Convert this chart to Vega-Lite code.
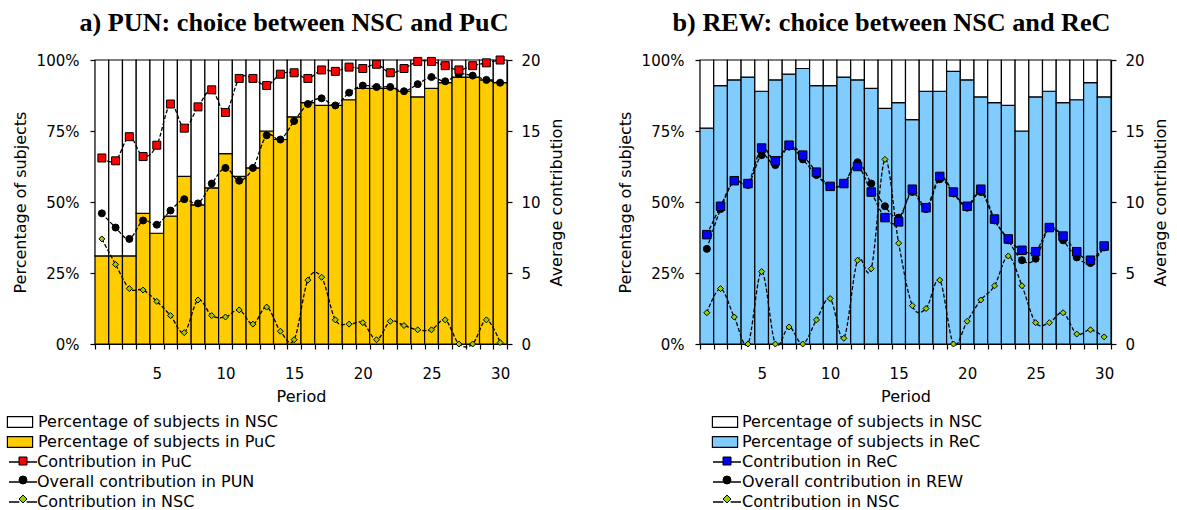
{
  "$schema": "https://vega.github.io/schema/vega-lite/v6.json",
  "background": "white",
  "padding": {"left": 10, "top": 9, "right": 5, "bottom": 0},
  "config": {
    "font": "DejaVu Sans",
    "view": {"stroke": null},
    "axis": {
      "labelFont": "DejaVu Sans", "labelFontSize": 15, "labelColor": "black",
      "titleFont": "DejaVu Sans", "titleFontSize": 16, "titleFontWeight": "normal", "titleColor": "black",
      "domainColor": "black", "domainWidth": 1.2, "tickColor": "black", "tickWidth": 1.2, "grid": false
    },
    "legend": {"labelFont": "DejaVu Sans", "labelFontSize": 16, "labelColor": "black", "labelLimit": 0},
    "title": {"font": "Liberation Serif", "fontSize": 26.2, "fontWeight": "bold", "color": "black"}
  },
  "datasets": {
    "pun_bars": [
      {"period": 1, "group": "Percentage of subjects in PuC", "share": 0.31}, {"period": 1, "group": "Percentage of subjects in NSC", "share": 0.69},
      {"period": 2, "group": "Percentage of subjects in PuC", "share": 0.31}, {"period": 2, "group": "Percentage of subjects in NSC", "share": 0.69},
      {"period": 3, "group": "Percentage of subjects in PuC", "share": 0.31}, {"period": 3, "group": "Percentage of subjects in NSC", "share": 0.69},
      {"period": 4, "group": "Percentage of subjects in PuC", "share": 0.46}, {"period": 4, "group": "Percentage of subjects in NSC", "share": 0.54},
      {"period": 5, "group": "Percentage of subjects in PuC", "share": 0.39}, {"period": 5, "group": "Percentage of subjects in NSC", "share": 0.61},
      {"period": 6, "group": "Percentage of subjects in PuC", "share": 0.45}, {"period": 6, "group": "Percentage of subjects in NSC", "share": 0.55},
      {"period": 7, "group": "Percentage of subjects in PuC", "share": 0.59}, {"period": 7, "group": "Percentage of subjects in NSC", "share": 0.41},
      {"period": 8, "group": "Percentage of subjects in PuC", "share": 0.49}, {"period": 8, "group": "Percentage of subjects in NSC", "share": 0.51},
      {"period": 9, "group": "Percentage of subjects in PuC", "share": 0.55}, {"period": 9, "group": "Percentage of subjects in NSC", "share": 0.45},
      {"period": 10, "group": "Percentage of subjects in PuC", "share": 0.67}, {"period": 10, "group": "Percentage of subjects in NSC", "share": 0.33},
      {"period": 11, "group": "Percentage of subjects in PuC", "share": 0.59}, {"period": 11, "group": "Percentage of subjects in NSC", "share": 0.41},
      {"period": 12, "group": "Percentage of subjects in PuC", "share": 0.62}, {"period": 12, "group": "Percentage of subjects in NSC", "share": 0.38},
      {"period": 13, "group": "Percentage of subjects in PuC", "share": 0.75}, {"period": 13, "group": "Percentage of subjects in NSC", "share": 0.25},
      {"period": 14, "group": "Percentage of subjects in PuC", "share": 0.72}, {"period": 14, "group": "Percentage of subjects in NSC", "share": 0.28},
      {"period": 15, "group": "Percentage of subjects in PuC", "share": 0.80}, {"period": 15, "group": "Percentage of subjects in NSC", "share": 0.20},
      {"period": 16, "group": "Percentage of subjects in PuC", "share": 0.85}, {"period": 16, "group": "Percentage of subjects in NSC", "share": 0.15},
      {"period": 17, "group": "Percentage of subjects in PuC", "share": 0.84}, {"period": 17, "group": "Percentage of subjects in NSC", "share": 0.16},
      {"period": 18, "group": "Percentage of subjects in PuC", "share": 0.84}, {"period": 18, "group": "Percentage of subjects in NSC", "share": 0.16},
      {"period": 19, "group": "Percentage of subjects in PuC", "share": 0.86}, {"period": 19, "group": "Percentage of subjects in NSC", "share": 0.14},
      {"period": 20, "group": "Percentage of subjects in PuC", "share": 0.90}, {"period": 20, "group": "Percentage of subjects in NSC", "share": 0.10},
      {"period": 21, "group": "Percentage of subjects in PuC", "share": 0.90}, {"period": 21, "group": "Percentage of subjects in NSC", "share": 0.10},
      {"period": 22, "group": "Percentage of subjects in PuC", "share": 0.90}, {"period": 22, "group": "Percentage of subjects in NSC", "share": 0.10},
      {"period": 23, "group": "Percentage of subjects in PuC", "share": 0.89}, {"period": 23, "group": "Percentage of subjects in NSC", "share": 0.11},
      {"period": 24, "group": "Percentage of subjects in PuC", "share": 0.87}, {"period": 24, "group": "Percentage of subjects in NSC", "share": 0.13},
      {"period": 25, "group": "Percentage of subjects in PuC", "share": 0.90}, {"period": 25, "group": "Percentage of subjects in NSC", "share": 0.10},
      {"period": 26, "group": "Percentage of subjects in PuC", "share": 0.92}, {"period": 26, "group": "Percentage of subjects in NSC", "share": 0.08},
      {"period": 27, "group": "Percentage of subjects in PuC", "share": 0.94}, {"period": 27, "group": "Percentage of subjects in NSC", "share": 0.06},
      {"period": 28, "group": "Percentage of subjects in PuC", "share": 0.94}, {"period": 28, "group": "Percentage of subjects in NSC", "share": 0.06},
      {"period": 29, "group": "Percentage of subjects in PuC", "share": 0.93}, {"period": 29, "group": "Percentage of subjects in NSC", "share": 0.07},
      {"period": 30, "group": "Percentage of subjects in PuC", "share": 0.92}, {"period": 30, "group": "Percentage of subjects in NSC", "share": 0.08}
    ],
    "pun_lines": [
      {"period": 1, "series": "Overall contribution in PUN", "value": 9.2},
      {"period": 2, "series": "Overall contribution in PUN", "value": 8.2},
      {"period": 3, "series": "Overall contribution in PUN", "value": 7.4},
      {"period": 4, "series": "Overall contribution in PUN", "value": 8.7},
      {"period": 5, "series": "Overall contribution in PUN", "value": 8.4},
      {"period": 6, "series": "Overall contribution in PUN", "value": 9.4},
      {"period": 7, "series": "Overall contribution in PUN", "value": 10.2},
      {"period": 8, "series": "Overall contribution in PUN", "value": 9.9},
      {"period": 9, "series": "Overall contribution in PUN", "value": 11.3},
      {"period": 10, "series": "Overall contribution in PUN", "value": 12.4},
      {"period": 11, "series": "Overall contribution in PUN", "value": 11.5},
      {"period": 12, "series": "Overall contribution in PUN", "value": 12.4},
      {"period": 13, "series": "Overall contribution in PUN", "value": 14.7},
      {"period": 14, "series": "Overall contribution in PUN", "value": 14.4},
      {"period": 15, "series": "Overall contribution in PUN", "value": 15.7},
      {"period": 16, "series": "Overall contribution in PUN", "value": 16.9},
      {"period": 17, "series": "Overall contribution in PUN", "value": 17.3},
      {"period": 18, "series": "Overall contribution in PUN", "value": 16.8},
      {"period": 19, "series": "Overall contribution in PUN", "value": 17.7},
      {"period": 20, "series": "Overall contribution in PUN", "value": 18.2},
      {"period": 21, "series": "Overall contribution in PUN", "value": 18.1},
      {"period": 22, "series": "Overall contribution in PUN", "value": 18.1},
      {"period": 23, "series": "Overall contribution in PUN", "value": 17.8},
      {"period": 24, "series": "Overall contribution in PUN", "value": 18.3},
      {"period": 25, "series": "Overall contribution in PUN", "value": 18.8},
      {"period": 26, "series": "Overall contribution in PUN", "value": 18.5},
      {"period": 27, "series": "Overall contribution in PUN", "value": 19.0},
      {"period": 28, "series": "Overall contribution in PUN", "value": 18.9},
      {"period": 29, "series": "Overall contribution in PUN", "value": 18.6},
      {"period": 30, "series": "Overall contribution in PUN", "value": 18.4},
      {"period": 1, "series": "Contribution in PuC", "value": 13.1},
      {"period": 2, "series": "Contribution in PuC", "value": 12.9},
      {"period": 3, "series": "Contribution in PuC", "value": 14.6},
      {"period": 4, "series": "Contribution in PuC", "value": 13.2},
      {"period": 5, "series": "Contribution in PuC", "value": 14.0},
      {"period": 6, "series": "Contribution in PuC", "value": 16.9},
      {"period": 7, "series": "Contribution in PuC", "value": 15.2},
      {"period": 8, "series": "Contribution in PuC", "value": 16.7},
      {"period": 9, "series": "Contribution in PuC", "value": 17.9},
      {"period": 10, "series": "Contribution in PuC", "value": 16.3},
      {"period": 11, "series": "Contribution in PuC", "value": 18.7},
      {"period": 12, "series": "Contribution in PuC", "value": 18.7},
      {"period": 13, "series": "Contribution in PuC", "value": 18.2},
      {"period": 14, "series": "Contribution in PuC", "value": 19.0},
      {"period": 15, "series": "Contribution in PuC", "value": 19.1},
      {"period": 16, "series": "Contribution in PuC", "value": 18.7},
      {"period": 17, "series": "Contribution in PuC", "value": 19.3},
      {"period": 18, "series": "Contribution in PuC", "value": 19.2},
      {"period": 19, "series": "Contribution in PuC", "value": 19.5},
      {"period": 20, "series": "Contribution in PuC", "value": 19.4},
      {"period": 21, "series": "Contribution in PuC", "value": 19.7},
      {"period": 22, "series": "Contribution in PuC", "value": 19.1},
      {"period": 23, "series": "Contribution in PuC", "value": 19.4},
      {"period": 24, "series": "Contribution in PuC", "value": 19.9},
      {"period": 25, "series": "Contribution in PuC", "value": 19.9},
      {"period": 26, "series": "Contribution in PuC", "value": 19.6},
      {"period": 27, "series": "Contribution in PuC", "value": 19.3},
      {"period": 28, "series": "Contribution in PuC", "value": 19.6},
      {"period": 29, "series": "Contribution in PuC", "value": 19.8},
      {"period": 30, "series": "Contribution in PuC", "value": 20.0},
      {"period": 1, "series": "Contribution in NSC", "value": 7.4},
      {"period": 2, "series": "Contribution in NSC", "value": 5.6},
      {"period": 3, "series": "Contribution in NSC", "value": 3.9},
      {"period": 4, "series": "Contribution in NSC", "value": 3.8},
      {"period": 5, "series": "Contribution in NSC", "value": 3.0},
      {"period": 6, "series": "Contribution in NSC", "value": 2.0},
      {"period": 7, "series": "Contribution in NSC", "value": 0.8},
      {"period": 8, "series": "Contribution in NSC", "value": 3.1},
      {"period": 9, "series": "Contribution in NSC", "value": 2.0},
      {"period": 10, "series": "Contribution in NSC", "value": 1.9},
      {"period": 11, "series": "Contribution in NSC", "value": 2.4},
      {"period": 12, "series": "Contribution in NSC", "value": 1.4},
      {"period": 13, "series": "Contribution in NSC", "value": 2.6},
      {"period": 14, "series": "Contribution in NSC", "value": 0.9},
      {"period": 15, "series": "Contribution in NSC", "value": 0.3},
      {"period": 16, "series": "Contribution in NSC", "value": 4.5},
      {"period": 17, "series": "Contribution in NSC", "value": 4.7},
      {"period": 18, "series": "Contribution in NSC", "value": 1.7},
      {"period": 19, "series": "Contribution in NSC", "value": 1.4},
      {"period": 20, "series": "Contribution in NSC", "value": 1.5},
      {"period": 21, "series": "Contribution in NSC", "value": 0.3},
      {"period": 22, "series": "Contribution in NSC", "value": 1.6},
      {"period": 23, "series": "Contribution in NSC", "value": 1.3},
      {"period": 24, "series": "Contribution in NSC", "value": 1.0},
      {"period": 25, "series": "Contribution in NSC", "value": 1.0},
      {"period": 26, "series": "Contribution in NSC", "value": 1.7},
      {"period": 27, "series": "Contribution in NSC", "value": 0.0},
      {"period": 28, "series": "Contribution in NSC", "value": 0.0},
      {"period": 29, "series": "Contribution in NSC", "value": 1.7},
      {"period": 30, "series": "Contribution in NSC", "value": 0.1}
    ],
    "rew_bars": [
      {"period": 1, "group": "Percentage of subjects in ReC", "share": 0.76}, {"period": 1, "group": "Percentage of subjects in NSC", "share": 0.24},
      {"period": 2, "group": "Percentage of subjects in ReC", "share": 0.91}, {"period": 2, "group": "Percentage of subjects in NSC", "share": 0.09},
      {"period": 3, "group": "Percentage of subjects in ReC", "share": 0.93}, {"period": 3, "group": "Percentage of subjects in NSC", "share": 0.07},
      {"period": 4, "group": "Percentage of subjects in ReC", "share": 0.94}, {"period": 4, "group": "Percentage of subjects in NSC", "share": 0.06},
      {"period": 5, "group": "Percentage of subjects in ReC", "share": 0.89}, {"period": 5, "group": "Percentage of subjects in NSC", "share": 0.11},
      {"period": 6, "group": "Percentage of subjects in ReC", "share": 0.93}, {"period": 6, "group": "Percentage of subjects in NSC", "share": 0.07},
      {"period": 7, "group": "Percentage of subjects in ReC", "share": 0.95}, {"period": 7, "group": "Percentage of subjects in NSC", "share": 0.05},
      {"period": 8, "group": "Percentage of subjects in ReC", "share": 0.97}, {"period": 8, "group": "Percentage of subjects in NSC", "share": 0.03},
      {"period": 9, "group": "Percentage of subjects in ReC", "share": 0.91}, {"period": 9, "group": "Percentage of subjects in NSC", "share": 0.09},
      {"period": 10, "group": "Percentage of subjects in ReC", "share": 0.91}, {"period": 10, "group": "Percentage of subjects in NSC", "share": 0.09},
      {"period": 11, "group": "Percentage of subjects in ReC", "share": 0.94}, {"period": 11, "group": "Percentage of subjects in NSC", "share": 0.06},
      {"period": 12, "group": "Percentage of subjects in ReC", "share": 0.93}, {"period": 12, "group": "Percentage of subjects in NSC", "share": 0.07},
      {"period": 13, "group": "Percentage of subjects in ReC", "share": 0.90}, {"period": 13, "group": "Percentage of subjects in NSC", "share": 0.10},
      {"period": 14, "group": "Percentage of subjects in ReC", "share": 0.83}, {"period": 14, "group": "Percentage of subjects in NSC", "share": 0.17},
      {"period": 15, "group": "Percentage of subjects in ReC", "share": 0.85}, {"period": 15, "group": "Percentage of subjects in NSC", "share": 0.15},
      {"period": 16, "group": "Percentage of subjects in ReC", "share": 0.79}, {"period": 16, "group": "Percentage of subjects in NSC", "share": 0.21},
      {"period": 17, "group": "Percentage of subjects in ReC", "share": 0.89}, {"period": 17, "group": "Percentage of subjects in NSC", "share": 0.11},
      {"period": 18, "group": "Percentage of subjects in ReC", "share": 0.89}, {"period": 18, "group": "Percentage of subjects in NSC", "share": 0.11},
      {"period": 19, "group": "Percentage of subjects in ReC", "share": 0.96}, {"period": 19, "group": "Percentage of subjects in NSC", "share": 0.04},
      {"period": 20, "group": "Percentage of subjects in ReC", "share": 0.93}, {"period": 20, "group": "Percentage of subjects in NSC", "share": 0.07},
      {"period": 21, "group": "Percentage of subjects in ReC", "share": 0.87}, {"period": 21, "group": "Percentage of subjects in NSC", "share": 0.13},
      {"period": 22, "group": "Percentage of subjects in ReC", "share": 0.85}, {"period": 22, "group": "Percentage of subjects in NSC", "share": 0.15},
      {"period": 23, "group": "Percentage of subjects in ReC", "share": 0.84}, {"period": 23, "group": "Percentage of subjects in NSC", "share": 0.16},
      {"period": 24, "group": "Percentage of subjects in ReC", "share": 0.75}, {"period": 24, "group": "Percentage of subjects in NSC", "share": 0.25},
      {"period": 25, "group": "Percentage of subjects in ReC", "share": 0.87}, {"period": 25, "group": "Percentage of subjects in NSC", "share": 0.13},
      {"period": 26, "group": "Percentage of subjects in ReC", "share": 0.89}, {"period": 26, "group": "Percentage of subjects in NSC", "share": 0.11},
      {"period": 27, "group": "Percentage of subjects in ReC", "share": 0.85}, {"period": 27, "group": "Percentage of subjects in NSC", "share": 0.15},
      {"period": 28, "group": "Percentage of subjects in ReC", "share": 0.86}, {"period": 28, "group": "Percentage of subjects in NSC", "share": 0.14},
      {"period": 29, "group": "Percentage of subjects in ReC", "share": 0.92}, {"period": 29, "group": "Percentage of subjects in NSC", "share": 0.08},
      {"period": 30, "group": "Percentage of subjects in ReC", "share": 0.87}, {"period": 30, "group": "Percentage of subjects in NSC", "share": 0.13}
    ],
    "rew_lines": [
      {"period": 1, "series": "Overall contribution in REW", "value": 6.7},
      {"period": 2, "series": "Overall contribution in REW", "value": 9.5},
      {"period": 3, "series": "Overall contribution in REW", "value": 11.5},
      {"period": 4, "series": "Overall contribution in REW", "value": 11.2},
      {"period": 5, "series": "Overall contribution in REW", "value": 13.3},
      {"period": 6, "series": "Overall contribution in REW", "value": 12.6},
      {"period": 7, "series": "Overall contribution in REW", "value": 13.9},
      {"period": 8, "series": "Overall contribution in REW", "value": 13.0},
      {"period": 9, "series": "Overall contribution in REW", "value": 11.9},
      {"period": 10, "series": "Overall contribution in REW", "value": 11.1},
      {"period": 11, "series": "Overall contribution in REW", "value": 11.3},
      {"period": 12, "series": "Overall contribution in REW", "value": 12.8},
      {"period": 13, "series": "Overall contribution in REW", "value": 11.3},
      {"period": 14, "series": "Overall contribution in REW", "value": 9.7},
      {"period": 15, "series": "Overall contribution in REW", "value": 8.9},
      {"period": 16, "series": "Overall contribution in REW", "value": 10.7},
      {"period": 17, "series": "Overall contribution in REW", "value": 9.5},
      {"period": 18, "series": "Overall contribution in REW", "value": 11.6},
      {"period": 19, "series": "Overall contribution in REW", "value": 10.6},
      {"period": 20, "series": "Overall contribution in REW", "value": 9.6},
      {"period": 21, "series": "Overall contribution in REW", "value": 10.7},
      {"period": 22, "series": "Overall contribution in REW", "value": 8.7},
      {"period": 23, "series": "Overall contribution in REW", "value": 7.3},
      {"period": 24, "series": "Overall contribution in REW", "value": 5.9},
      {"period": 25, "series": "Overall contribution in REW", "value": 6.0},
      {"period": 26, "series": "Overall contribution in REW", "value": 8.2},
      {"period": 27, "series": "Overall contribution in REW", "value": 7.3},
      {"period": 28, "series": "Overall contribution in REW", "value": 6.1},
      {"period": 29, "series": "Overall contribution in REW", "value": 5.7},
      {"period": 30, "series": "Overall contribution in REW", "value": 6.8},
      {"period": 1, "series": "Contribution in ReC", "value": 7.7},
      {"period": 2, "series": "Contribution in ReC", "value": 9.7},
      {"period": 3, "series": "Contribution in ReC", "value": 11.5},
      {"period": 4, "series": "Contribution in ReC", "value": 11.3},
      {"period": 5, "series": "Contribution in ReC", "value": 13.8},
      {"period": 6, "series": "Contribution in ReC", "value": 12.9},
      {"period": 7, "series": "Contribution in ReC", "value": 14.0},
      {"period": 8, "series": "Contribution in ReC", "value": 13.3},
      {"period": 9, "series": "Contribution in ReC", "value": 12.1},
      {"period": 10, "series": "Contribution in ReC", "value": 11.1},
      {"period": 11, "series": "Contribution in ReC", "value": 11.3},
      {"period": 12, "series": "Contribution in ReC", "value": 12.5},
      {"period": 13, "series": "Contribution in ReC", "value": 10.7},
      {"period": 14, "series": "Contribution in ReC", "value": 8.9},
      {"period": 15, "series": "Contribution in ReC", "value": 8.6},
      {"period": 16, "series": "Contribution in ReC", "value": 10.9},
      {"period": 17, "series": "Contribution in ReC", "value": 9.6},
      {"period": 18, "series": "Contribution in ReC", "value": 11.8},
      {"period": 19, "series": "Contribution in ReC", "value": 10.7},
      {"period": 20, "series": "Contribution in ReC", "value": 9.7},
      {"period": 21, "series": "Contribution in ReC", "value": 10.9},
      {"period": 22, "series": "Contribution in ReC", "value": 8.8},
      {"period": 23, "series": "Contribution in ReC", "value": 7.4},
      {"period": 24, "series": "Contribution in ReC", "value": 6.6},
      {"period": 25, "series": "Contribution in ReC", "value": 6.5},
      {"period": 26, "series": "Contribution in ReC", "value": 8.2},
      {"period": 27, "series": "Contribution in ReC", "value": 7.6},
      {"period": 28, "series": "Contribution in ReC", "value": 6.5},
      {"period": 29, "series": "Contribution in ReC", "value": 5.9},
      {"period": 30, "series": "Contribution in ReC", "value": 6.9},
      {"period": 1, "series": "Contribution in NSC", "value": 2.2},
      {"period": 2, "series": "Contribution in NSC", "value": 3.9},
      {"period": 3, "series": "Contribution in NSC", "value": 1.9},
      {"period": 4, "series": "Contribution in NSC", "value": 0.0},
      {"period": 5, "series": "Contribution in NSC", "value": 5.1},
      {"period": 6, "series": "Contribution in NSC", "value": 0.0},
      {"period": 7, "series": "Contribution in NSC", "value": 1.2},
      {"period": 8, "series": "Contribution in NSC", "value": 0.0},
      {"period": 9, "series": "Contribution in NSC", "value": 1.7},
      {"period": 10, "series": "Contribution in NSC", "value": 3.2},
      {"period": 11, "series": "Contribution in NSC", "value": 0.4},
      {"period": 12, "series": "Contribution in NSC", "value": 5.9},
      {"period": 13, "series": "Contribution in NSC", "value": 5.3},
      {"period": 14, "series": "Contribution in NSC", "value": 13.0},
      {"period": 15, "series": "Contribution in NSC", "value": 7.1},
      {"period": 16, "series": "Contribution in NSC", "value": 2.7},
      {"period": 17, "series": "Contribution in NSC", "value": 2.5},
      {"period": 18, "series": "Contribution in NSC", "value": 4.5},
      {"period": 19, "series": "Contribution in NSC", "value": 0.0},
      {"period": 20, "series": "Contribution in NSC", "value": 1.6},
      {"period": 21, "series": "Contribution in NSC", "value": 3.1},
      {"period": 22, "series": "Contribution in NSC", "value": 4.1},
      {"period": 23, "series": "Contribution in NSC", "value": 6.2},
      {"period": 24, "series": "Contribution in NSC", "value": 4.1},
      {"period": 25, "series": "Contribution in NSC", "value": 1.5},
      {"period": 26, "series": "Contribution in NSC", "value": 1.5},
      {"period": 27, "series": "Contribution in NSC", "value": 2.2},
      {"period": 28, "series": "Contribution in NSC", "value": 0.7},
      {"period": 29, "series": "Contribution in NSC", "value": 1.0},
      {"period": 30, "series": "Contribution in NSC", "value": 0.5}
    ]
  },
  "spacing": 52,
  "resolve": {
    "scale": {"color": "independent", "fill": "independent", "shape": "independent", "stroke": "independent"},
    "legend": {"color": "independent", "fill": "independent", "shape": "independent", "stroke": "independent"}
  },
  "hconcat": [
    {
      "width": 412,
      "height": 284,
      "title": {"text": "a) PUN: choice between NSC and PuC", "anchor": "middle", "frame": "group", "baseline": "alphabetic", "offset": -4, "dx": -7},
      "layer": [
        {
          "data": {"name": "pun_bars"},
          "mark": {"type": "bar", "stroke": "black", "strokeWidth": 1.2},
          "encoding": {
            "x": {
              "field": "period", "type": "ordinal",
              "scale": {"paddingInner": 0, "paddingOuter": 0},
              "axis": {
                "title": "Period", "labelAngle": 0, "tickBand": "extent", "tickSize": 5,
                "labelPadding": 17, "titlePadding": 7,
                "labelExpr": "datum.value % 5 === 0 ? datum.label : ''",
                "encode": {"ticks": {"y": {"value": -4}, "y2": {"value": 5}}}
              }
            },
            "y": {
              "field": "share", "type": "quantitative", "stack": "zero",
              "scale": {"domain": [0, 1]},
              "axis": {"title": "Percentage of subjects", "values": [0, 0.25, 0.5, 0.75, 1], "format": ".0%", "tickSize": 5, "labelPadding": 11, "titlePadding": 8}
            },
            "color": {
              "field": "group", "type": "nominal",
              "scale": {"domain": ["Percentage of subjects in NSC", "Percentage of subjects in PuC"], "range": ["#FFFFFF", "#FFCC00"]},
              "legend": {
                "title": null, "orient": "none", "legendX": -85, "legendY": 352, "padding": 0,
                "symbolType": "M-1.4,-0.6H1.4V0.6H-1.4Z", "symbolSize": 324,
                "symbolStrokeColor": "black", "symbolStrokeWidth": 1.2, "symbolOpacity": 1,
                "labelOffset": 8, "rowPadding": 2
              }
            },
            "order": {"field": "group", "sort": "descending"}
          }
        },
        {
          "data": {"name": "pun_lines"},
          "mark": {"type": "line", "strokeWidth": 1.3, "strokeDash": [4, 2], "interpolate": "cardinal"},
          "encoding": {
            "x": {"field": "period", "type": "ordinal"},
            "y": {
              "field": "value", "type": "quantitative", "scale": {"domain": [0, 20]},
              "axis": {
                "orient": "right", "title": "Average contribution", "titleAngle": -90, "titleBaseline": "top", "values": [0, 5, 10, 15, 20],
                "tickSize": 5, "labelPadding": 9, "titlePadding": 8,
                "encode": {"ticks": {"x": {"value": -5}, "x2": {"value": 5}}}
              }
            },
            "stroke": {
              "field": "series", "type": "nominal",
              "scale": {"domain": ["Contribution in NSC", "Overall contribution in PUN", "Contribution in PuC"], "range": ["#000000", "#000000", "#000000"]},
              "legend": {
                "title": null, "orient": "none", "legendX": -81, "legendY": 393, "padding": 0,
                "values": ["Contribution in PuC", "Overall contribution in PUN", "Contribution in NSC"],
                "symbolType": "M-1.75,0H-0.45M0.45,0H1.75", "symbolSize": 256, "symbolStrokeWidth": 1.4, "symbolDash": [1, 0],
                "labelOffset": 5, "rowPadding": 3
              }
            }
          }
        },
        {
          "data": {"name": "pun_lines"},
          "transform": [{"filter": "datum.series === 'Overall contribution in PUN'"}],
          "mark": {"type": "point", "filled": true, "stroke": "black", "strokeWidth": 1, "size": 49, "opacity": 1},
          "encoding": {
            "x": {"field": "period", "type": "ordinal"},
            "y": {"field": "value", "type": "quantitative", "scale": {"domain": [0, 20]}, "axis": null},
            "shape": {
              "field": "series", "type": "nominal",
              "scale": {"domain": ["Contribution in PuC", "Overall contribution in PUN", "Contribution in NSC"], "range": ["square", "circle", "diamond"]},
              "legend": {
                "title": null, "orient": "none", "legendX": -80, "legendY": 393, "padding": 0,
                "symbolSize": 64, "symbolStrokeWidth": 1, "labelOffset": 12, "rowPadding": 3, "labelOpacity": 0
              }
            },
            "fill": {
              "field": "series", "type": "nominal",
              "scale": {"domain": ["Contribution in PuC", "Overall contribution in PUN", "Contribution in NSC"], "range": ["#FF0000", "#000000", "#99CC00"]},
              "legend": {
                "title": null, "orient": "none", "legendX": -80, "legendY": 393, "padding": 0,
                "symbolSize": 64, "symbolStrokeWidth": 1, "labelOffset": 12, "rowPadding": 3, "labelOpacity": 0
              }
            }
          }
        },
        {
          "data": {"name": "pun_lines"},
          "transform": [{"filter": "datum.series === 'Contribution in PuC'"}],
          "mark": {"type": "point", "filled": true, "stroke": "black", "strokeWidth": 1, "size": 64, "opacity": 1},
          "encoding": {
            "x": {"field": "period", "type": "ordinal"},
            "y": {"field": "value", "type": "quantitative", "scale": {"domain": [0, 20]}, "axis": null},
            "shape": {"field": "series", "type": "nominal"},
            "fill": {"field": "series", "type": "nominal"}
          }
        },
        {
          "data": {"name": "pun_lines"},
          "transform": [{"filter": "datum.series === 'Contribution in NSC'"}],
          "mark": {"type": "point", "filled": true, "stroke": "black", "strokeWidth": 1, "size": 36, "opacity": 1},
          "encoding": {
            "x": {"field": "period", "type": "ordinal"},
            "y": {"field": "value", "type": "quantitative", "scale": {"domain": [0, 20]}, "axis": null},
            "shape": {"field": "series", "type": "nominal"},
            "fill": {"field": "series", "type": "nominal"}
          }
        }
      ],
      "resolve": {"scale": {"y": "independent"}}
    },
    {
      "width": 411,
      "height": 284,
      "title": {"text": "b) REW: choice between NSC and ReC", "anchor": "middle", "frame": "group", "baseline": "alphabetic", "offset": -4, "dx": -14},
      "layer": [
        {
          "data": {"name": "rew_bars"},
          "mark": {"type": "bar", "stroke": "black", "strokeWidth": 1.2},
          "encoding": {
            "x": {
              "field": "period", "type": "ordinal",
              "scale": {"paddingInner": 0, "paddingOuter": 0},
              "axis": {
                "title": "Period", "labelAngle": 0, "tickBand": "extent", "tickSize": 5,
                "labelPadding": 17, "titlePadding": 7,
                "labelExpr": "datum.value % 5 === 0 ? datum.label : ''",
                "encode": {"ticks": {"y": {"value": -4}, "y2": {"value": 5}}}
              }
            },
            "y": {
              "field": "share", "type": "quantitative", "stack": "zero",
              "scale": {"domain": [0, 1]},
              "axis": {"title": "Percentage of subjects", "values": [0, 0.25, 0.5, 0.75, 1], "format": ".0%", "tickSize": 5, "labelPadding": 11, "titlePadding": 8}
            },
            "color": {
              "field": "group", "type": "nominal",
              "scale": {"domain": ["Percentage of subjects in NSC", "Percentage of subjects in ReC"], "range": ["#FFFFFF", "#80CCFF"]},
              "legend": {
                "title": null, "orient": "none", "legendX": 15, "legendY": 352, "padding": 0,
                "symbolType": "M-1.4,-0.6H1.4V0.6H-1.4Z", "symbolSize": 324,
                "symbolStrokeColor": "black", "symbolStrokeWidth": 1.2, "symbolOpacity": 1,
                "labelOffset": 7, "rowPadding": 2
              }
            },
            "order": {"field": "group", "sort": "descending"}
          }
        },
        {
          "data": {"name": "rew_lines"},
          "mark": {"type": "line", "strokeWidth": 1.3, "strokeDash": [4, 2], "interpolate": "cardinal"},
          "encoding": {
            "x": {"field": "period", "type": "ordinal"},
            "y": {
              "field": "value", "type": "quantitative", "scale": {"domain": [0, 20]},
              "axis": {
                "orient": "right", "title": "Average contribution", "titleAngle": -90, "titleBaseline": "top", "values": [0, 5, 10, 15, 20],
                "tickSize": 5, "labelPadding": 9, "titlePadding": 8,
                "encode": {"ticks": {"x": {"value": -5}, "x2": {"value": 5}}}
              }
            },
            "stroke": {
              "field": "series", "type": "nominal",
              "scale": {"domain": ["Contribution in NSC", "Overall contribution in REW", "Contribution in ReC"], "range": ["#000000", "#000000", "#000000"]},
              "legend": {
                "title": null, "orient": "none", "legendX": 18, "legendY": 393, "padding": 0,
                "values": ["Contribution in ReC", "Overall contribution in REW", "Contribution in NSC"],
                "symbolType": "M-1.75,0H-0.45M0.45,0H1.75", "symbolSize": 256, "symbolStrokeWidth": 1.4, "symbolDash": [1, 0],
                "labelOffset": 6, "rowPadding": 3
              }
            }
          }
        },
        {
          "data": {"name": "rew_lines"},
          "transform": [{"filter": "datum.series === 'Overall contribution in REW'"}],
          "mark": {"type": "point", "filled": true, "stroke": "black", "strokeWidth": 1, "size": 49, "opacity": 1},
          "encoding": {
            "x": {"field": "period", "type": "ordinal"},
            "y": {"field": "value", "type": "quantitative", "scale": {"domain": [0, 20]}, "axis": null},
            "shape": {
              "field": "series", "type": "nominal",
              "scale": {"domain": ["Contribution in ReC", "Overall contribution in REW", "Contribution in NSC"], "range": ["square", "circle", "diamond"]},
              "legend": {
                "title": null, "orient": "none", "legendX": 19, "legendY": 393, "padding": 0,
                "symbolSize": 64, "symbolStrokeWidth": 1, "labelOffset": 13, "rowPadding": 3, "labelOpacity": 0
              }
            },
            "fill": {
              "field": "series", "type": "nominal",
              "scale": {"domain": ["Contribution in ReC", "Overall contribution in REW", "Contribution in NSC"], "range": ["#0000FF", "#000000", "#99CC00"]},
              "legend": {
                "title": null, "orient": "none", "legendX": 19, "legendY": 393, "padding": 0,
                "symbolSize": 64, "symbolStrokeWidth": 1, "labelOffset": 13, "rowPadding": 3, "labelOpacity": 0
              }
            }
          }
        },
        {
          "data": {"name": "rew_lines"},
          "transform": [{"filter": "datum.series === 'Contribution in ReC'"}],
          "mark": {"type": "point", "filled": true, "stroke": "black", "strokeWidth": 1, "size": 72, "opacity": 1},
          "encoding": {
            "x": {"field": "period", "type": "ordinal"},
            "y": {"field": "value", "type": "quantitative", "scale": {"domain": [0, 20]}, "axis": null},
            "shape": {"field": "series", "type": "nominal"},
            "fill": {"field": "series", "type": "nominal"}
          }
        },
        {
          "data": {"name": "rew_lines"},
          "transform": [{"filter": "datum.series === 'Contribution in NSC'"}],
          "mark": {"type": "point", "filled": true, "stroke": "black", "strokeWidth": 1, "size": 36, "opacity": 1},
          "encoding": {
            "x": {"field": "period", "type": "ordinal"},
            "y": {"field": "value", "type": "quantitative", "scale": {"domain": [0, 20]}, "axis": null},
            "shape": {"field": "series", "type": "nominal"},
            "fill": {"field": "series", "type": "nominal"}
          }
        }
      ],
      "resolve": {"scale": {"y": "independent"}}
    }
  ]
}
